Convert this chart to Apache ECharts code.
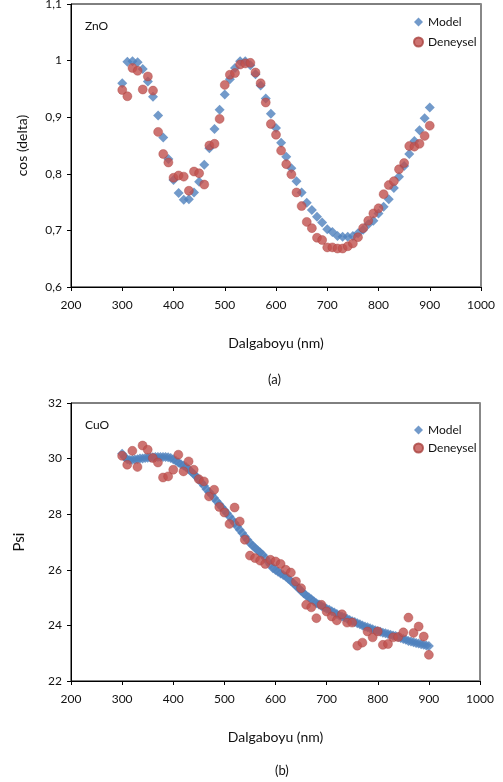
<!DOCTYPE html>
<html>
<head>
<meta charset="utf-8">
<script src="https://cdn.jsdelivr.net/npm/echarts@6/dist/echarts.min.js"></script>
<style>
  html, body { margin: 0; padding: 0; background: #fff; }
  #chart { width: 503px; height: 782px; }
</style>
</head>
<body>
<div id="chart"></div>
<script>
// (a) ZnO, cos(delta), 10 nm step
const wlA = [300,310,320,330,340,350,360,370,380,390,400,410,420,430,440,450,460,470,480,490,
  500,510,520,530,540,550,560,570,580,590,600,610,620,630,640,650,660,670,680,690,
  700,710,720,730,740,750,760,770,780,790,800,810,820,830,840,850,860,870,880,890,900];
const modelA = [0.960,0.998,0.999,0.997,0.985,0.963,0.936,0.903,0.864,0.826,
  0.789,0.766,0.754,0.755,0.767,0.786,0.816,0.845,0.879,0.913,
  0.940,0.967,0.987,0.999,0.999,0.992,0.976,0.956,0.933,0.906,
  0.881,0.855,0.830,0.810,0.787,0.767,0.749,0.736,0.724,0.714,
  0.702,0.697,0.690,0.689,0.689,0.690,0.695,0.701,0.711,0.717,
  0.730,0.742,0.755,0.775,0.795,0.814,0.835,0.858,0.877,0.898,0.917];
const expA = [0.948,0.937,0.987,0.982,0.949,0.972,0.947,0.874,0.835,0.820,
  0.793,0.797,0.795,0.770,0.804,0.801,0.781,0.850,0.853,0.897,
  0.957,0.975,0.978,0.993,0.995,0.996,0.979,0.960,0.926,0.888,
  0.869,0.841,0.817,0.799,0.767,0.743,0.715,0.704,0.687,0.683,
  0.670,0.670,0.668,0.668,0.672,0.677,0.688,0.704,0.717,0.730,
  0.739,0.764,0.780,0.787,0.808,0.819,0.849,0.848,0.853,0.867,0.885];

// (b) CuO, Psi; model 5 nm step, experiment 10 nm step
const wlBModel = [300,305,310,315,320,325,330,335,340,345,350,355,360,365,370,375,380,385,390,395,
  400,405,410,415,420,425,430,435,440,445,450,455,460,465,470,475,480,485,490,495,
  500,505,510,515,520,525,530,535,540,545,550,555,560,565,570,575,580,585,590,595,
  600,605,610,615,620,625,630,635,640,645,650,655,660,665,670,675,680,685,690,695,
  700,705,710,715,720,725,730,735,740,745,750,755,760,765,770,775,780,785,790,795,
  800,805,810,815,820,825,830,835,840,845,850,855,860,865,870,875,880,885,890,895,900];
const modelB = [30.17,30.05,29.98,29.95,29.96,29.97,29.98,30.00,30.00,30.02,
  30.03,30.04,30.05,30.06,30.06,30.06,30.06,30.06,30.05,30.02,
  29.98,29.92,29.86,29.80,29.75,29.70,29.62,29.54,29.45,29.36,
  29.26,29.14,29.02,28.90,28.80,28.70,28.58,28.47,28.36,28.25,
  28.14,28.03,27.92,27.80,27.68,27.56,27.44,27.32,27.20,27.08,
  26.96,26.87,26.78,26.70,26.62,26.54,26.42,26.30,26.18,26.06,
  25.99,25.93,25.87,25.81,25.76,25.68,25.60,25.52,25.43,25.34,
  25.25,25.16,25.08,25.01,24.94,24.87,24.80,24.75,24.70,24.65,
  24.60,24.56,24.51,24.46,24.41,24.36,24.32,24.28,24.24,24.19,
  24.15,24.12,24.08,24.04,24.00,23.96,23.93,23.90,23.86,23.83,
  23.80,23.77,23.74,23.72,23.69,23.66,23.64,23.62,23.58,23.55,
  23.51,23.48,23.44,23.42,23.39,23.37,23.35,23.32,23.30,23.28,23.26];
const wlBExp = wlA;
const expB = [30.10,29.78,30.28,29.70,30.47,30.32,30.02,29.86,29.32,29.36,
  29.60,30.14,29.54,29.90,29.60,29.26,29.18,28.64,28.88,28.26,
  28.06,27.65,28.24,27.74,27.08,26.51,26.42,26.33,26.21,26.36,
  26.30,26.21,26.00,25.90,25.58,25.34,24.74,24.65,24.26,24.74,
  24.50,24.32,24.18,24.40,24.10,24.10,23.27,23.38,23.78,23.57,
  23.78,23.30,23.33,23.57,23.58,23.75,24.28,23.73,23.96,23.60,22.94];

const xTicks = [200, 1000, 100];

const FONT = "Lato";
const TXT = "#111";
const BLUE = "#4F81BD";
const RED = "#C0504D";

function pairs(xs, ys) {
  return xs.map((x, i) => [x, ys[i]]);
}

function xAxisFor(gridIndex) {
  return {
    type: "value",
    gridIndex: gridIndex,
    min: xTicks[0],
    max: xTicks[1],
    interval: xTicks[2],
    name: "Dalgaboyu (nm)",
    nameLocation: "middle",
    nameGap: 49,
    nameTextStyle: { fontFamily: FONT, fontSize: 14, color: TXT },
    axisLine: { lineStyle: { color: "#000", width: 1 } },
    axisTick: { show: true, length: 4, lineStyle: { color: "#000" } },
    axisLabel: { fontFamily: FONT, fontSize: 12, color: TXT, margin: 12, formatter: (v) => String(v) },
    splitLine: { show: false },
  };
}

function rightEdge(gridIndex) {
  return {
    type: "value",
    gridIndex: gridIndex,
    position: "right",
    axisLine: { show: true, lineStyle: { color: "#888", width: 2 } },
    axisTick: { show: false },
    axisLabel: { show: false },
    splitLine: { show: false },
  };
}

const myChart = echarts.init(document.getElementById("chart"));

const option = {
  animation: false,
  backgroundColor: "#fff",
  title: [
    { text: "ZnO", left: 80, top: 15, textStyle: { fontFamily: FONT, fontSize: 12, fontWeight: "normal", color: TXT } },
    { text: "CuO", left: 80, top: 414, textStyle: { fontFamily: FONT, fontSize: 12, fontWeight: "normal", color: TXT } },
    { text: "(a)", left: 263, top: 368, textStyle: { fontFamily: FONT, fontSize: 13, fontWeight: "normal", color: TXT } },
    { text: "(b)", left: 270, top: 759, textStyle: { fontFamily: FONT, fontSize: 13, fontWeight: "normal", color: TXT } },
  ],
  legend: [
    {
      left: 408, top: 11, orient: "vertical", itemGap: 8, itemWidth: 9, itemHeight: 9,
      textStyle: { fontFamily: FONT, fontSize: 12, color: TXT },
      data: [{ name: "Model", icon: "diamond" }, { name: "Deneysel", icon: "circle" }],
    },
    {
      left: 408, top: 419, orient: "vertical", itemGap: 6, itemWidth: 9, itemHeight: 9,
      textStyle: { fontFamily: FONT, fontSize: 12, color: TXT },
      data: [{ name: "Model", icon: "diamond" }, { name: "Deneysel", icon: "circle" }],
    },
  ],
  grid: [
    { left: 71, top: 4, width: 410, height: 283, show: true, borderColor: "#000", borderWidth: 1, outerBoundsMode: "none" },
    { left: 71, top: 403, width: 409, height: 278, show: true, borderColor: "#000", borderWidth: 1, outerBoundsMode: "none" },
  ],
  xAxis: [xAxisFor(0), xAxisFor(1)],
  yAxis: [
    {
      type: "value", gridIndex: 0, min: 0.6, max: 1.1, interval: 0.1,
      name: "cos (delta)", nameLocation: "middle", nameGap: 42, nameRotate: 90,
      nameTextStyle: { fontFamily: FONT, fontSize: 14, color: TXT },
      axisLine: { show: true, lineStyle: { color: "#000" } },
      axisTick: { show: true, length: 4, lineStyle: { color: "#000" } },
      axisLabel: {
        fontFamily: FONT, fontSize: 12, color: TXT, margin: 9,
        formatter: (v) => String(Math.round(v * 10) / 10).replace(".", ","),
      },
      splitLine: { show: false },
    },
    {
      type: "value", gridIndex: 1, min: 22, max: 32, interval: 2,
      name: "Psi", nameLocation: "middle", nameGap: 44, nameRotate: 90,
      nameTextStyle: { fontFamily: FONT, fontSize: 15, color: TXT },
      axisLine: { show: true, lineStyle: { color: "#000" } },
      axisTick: { show: true, length: 4, lineStyle: { color: "#000" } },
      axisLabel: { fontFamily: FONT, fontSize: 12, color: TXT, margin: 9 },
      splitLine: { show: false },
    },
    rightEdge(0),
    rightEdge(1),
  ],
  series: [
    {
      name: "Model", type: "scatter", xAxisIndex: 0, yAxisIndex: 0,
      symbol: "diamond", symbolSize: 10, itemStyle: { color: BLUE },
      data: pairs(wlA, modelA),
    },
    {
      name: "Deneysel", type: "scatter", xAxisIndex: 0, yAxisIndex: 0,
      symbol: "circle", symbolSize: 9, itemStyle: { color: RED, borderColor: "#A9423F", borderWidth: 0.5 },
      data: pairs(wlA, expA),
    },
    {
      name: "Model", type: "scatter", xAxisIndex: 1, yAxisIndex: 1,
      symbol: "diamond", symbolSize: 10, itemStyle: { color: BLUE },
      data: pairs(wlBModel, modelB),
    },
    {
      name: "Deneysel", type: "scatter", xAxisIndex: 1, yAxisIndex: 1,
      symbol: "circle", symbolSize: 9, itemStyle: { color: RED, borderColor: "#A9423F", borderWidth: 0.5 },
      data: pairs(wlBExp, expB),
    },
  ],
};

myChart.setOption(option);
</script>
</body>
</html>
